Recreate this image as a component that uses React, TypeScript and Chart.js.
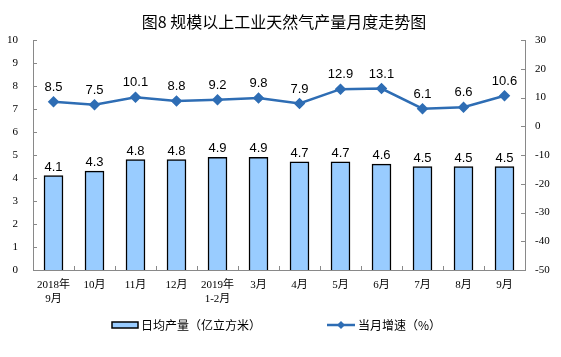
import React, { useEffect, useRef } from "react";
import { Chart, registerables } from "chart.js";

Chart.register(...registerables);

const categories: (string | string[])[] = [
  ["2018年", "9月"], "10月", "11月", "12月", ["2019年", "1-2月"], "3月", "4月", "5月", "6月", "7月", "8月", "9月",
];
const dailyOutput = [4.1, 4.3, 4.8, 4.8, 4.9, 4.9, 4.7, 4.7, 4.6, 4.5, 4.5, 4.5];
const monthlyGrowth = [8.5, 7.5, 10.1, 8.8, 9.2, 9.8, 7.9, 12.9, 13.1, 6.1, 6.6, 10.6];
const titleText = "图8 规模以上工业天然气产量月度走势图";
const barLabel = "日均产量（亿立方米）";
const lineLabel = "当月增速（%）";

const BAR_FILL = "#99CCFF";
const LINE_COLOR = "#2E6DB4";
const AXIS_COLOR = "#898989";
const SERIF = "'Liberation Serif', 'Noto Sans CJK SC', serif";
const SANS = "'Liberation Sans', Arial, sans-serif";
const CJK = "'Noto Sans CJK SC', sans-serif";

const decorPlugin = {
  id: "decor",
  afterDraw(chart: any) {
    const ctx = chart.ctx as CanvasRenderingContext2D;
    const area = chart.chartArea;
    const y = chart.scales.y;
    const y1 = chart.scales.y1;
    ctx.save();
    // inward tick marks
    ctx.strokeStyle = AXIS_COLOR;
    ctx.lineWidth = 1;
    ctx.beginPath();
    y.ticks.forEach((t: any) => {
      const py = Math.round(y.getPixelForValue(t.value)) + 0.5;
      ctx.moveTo(area.left, py);
      ctx.lineTo(area.left + 4, py);
    });
    y1.ticks.forEach((t: any) => {
      const py = Math.round(y1.getPixelForValue(t.value)) + 0.5;
      ctx.moveTo(area.right, py);
      ctx.lineTo(area.right - 4, py);
    });
    const n = categories.length;
    for (let i = 0; i <= n; i++) {
      const px = Math.round(area.left + ((area.right - area.left) * i) / n) + 0.5;
      ctx.moveTo(px, area.bottom);
      ctx.lineTo(px, area.bottom - 4);
    }
    ctx.stroke();

    // data labels
    ctx.fillStyle = "#000";
    ctx.font = `13px ${SANS}`;
    ctx.textAlign = "center";
    ctx.textBaseline = "alphabetic";
    const barMeta = chart.getDatasetMeta(1);
    barMeta.data.forEach((el: any, i: number) => {
      ctx.fillText(dailyOutput[i].toFixed(1), el.x, el.y - 5);
    });
    const lineMeta = chart.getDatasetMeta(0);
    lineMeta.data.forEach((el: any, i: number) => {
      ctx.fillText(monthlyGrowth[i].toFixed(1), el.x, el.y - 11);
    });

    // title
    ctx.font = `16px ${CJK}`;
    ctx.textBaseline = "middle";
    ctx.fillText(titleText, 284, 22);

    // legend
    const ly = 325;
    ctx.fillStyle = BAR_FILL;
    ctx.strokeStyle = "#000";
    ctx.lineWidth = 1.5;
    ctx.fillRect(112, ly - 3, 26, 6);
    ctx.strokeRect(112, ly - 3, 26, 6);
    ctx.fillStyle = "#000";
    ctx.font = `12px ${CJK}`;
    ctx.textAlign = "left";
    ctx.fillText(barLabel, 141, ly);

    ctx.strokeStyle = LINE_COLOR;
    ctx.lineWidth = 2.5;
    ctx.beginPath();
    ctx.moveTo(327, ly);
    ctx.lineTo(355, ly);
    ctx.stroke();
    ctx.fillStyle = LINE_COLOR;
    ctx.beginPath();
    ctx.moveTo(341, ly - 4);
    ctx.lineTo(345, ly);
    ctx.lineTo(341, ly + 4);
    ctx.lineTo(337, ly);
    ctx.closePath();
    ctx.fill();
    ctx.fillStyle = "#000";
    ctx.fillText(lineLabel, 358, ly);
    ctx.restore();
  },
};

export default function App() {
  const ref = useRef<HTMLCanvasElement>(null);
  useEffect(() => {
    if (!ref.current) return;
    const chart = new Chart(ref.current, {
      type: "bar",
      data: {
        labels: categories as any,
        datasets: [
          {
            type: "line",
            label: lineLabel,
            data: monthlyGrowth,
            yAxisID: "y1",
            borderColor: LINE_COLOR,
            backgroundColor: LINE_COLOR,
            borderWidth: 2.5,
            pointStyle: "rectRot",
            pointRadius: 4,
            pointHoverRadius: 4,
            pointBackgroundColor: LINE_COLOR,
            pointBorderColor: LINE_COLOR,
            tension: 0,
            order: 0,
          } as any,
          {
            type: "bar",
            label: barLabel,
            data: dailyOutput,
            yAxisID: "y",
            backgroundColor: BAR_FILL,
            borderColor: "#000",
            borderWidth: 1.5,
            barThickness: 19,
            order: 1,
          } as any,
        ],
      },
      options: {
        responsive: false,
        animation: false,
        layout: { padding: { top: 40, left: 0, right: 0, bottom: 0 } },
        plugins: {
          legend: { display: false },
          title: { display: false },
          tooltip: { enabled: false },
        },
        scales: {
          x: {
            grid: { display: false, drawTicks: false },
            border: { display: true, color: AXIS_COLOR },
            ticks: {
              color: "#000",
              font: { family: SERIF, size: 11, lineHeight: 1.3 },
              maxRotation: 0,
              autoSkip: false,
              padding: 8,
            },
            afterFit: (s: any) => {
              s.height = 87;
            },
          },
          y: {
            position: "left",
            min: 0,
            max: 10,
            grid: { display: false, drawTicks: false },
            border: { display: true, color: AXIS_COLOR },
            ticks: {
              stepSize: 1,
              color: "#000",
              font: { family: SERIF, size: 11 },
              padding: 15,
            },
            afterFit: (s: any) => {
              s.width = 33;
            },
          },
          y1: {
            position: "right",
            min: -50,
            max: 30,
            grid: { display: false, drawTicks: false },
            border: { display: true, color: AXIS_COLOR },
            ticks: {
              stepSize: 10,
              color: "#000",
              font: { family: SERIF, size: 11 },
              padding: 10,
            },
            afterFit: (s: any) => {
              s.width = 36;
            },
          },
        },
      },
      plugins: [decorPlugin],
    });
    return () => chart.destroy();
  }, []);
  return (
    <div style={{ position: "absolute", left: 0, top: 0, width: 561, height: 357, background: "#fff" }}>
      <canvas ref={ref} width={561} height={357} style={{ width: 561, height: 357, display: "block" }} />
    </div>
  );
}
